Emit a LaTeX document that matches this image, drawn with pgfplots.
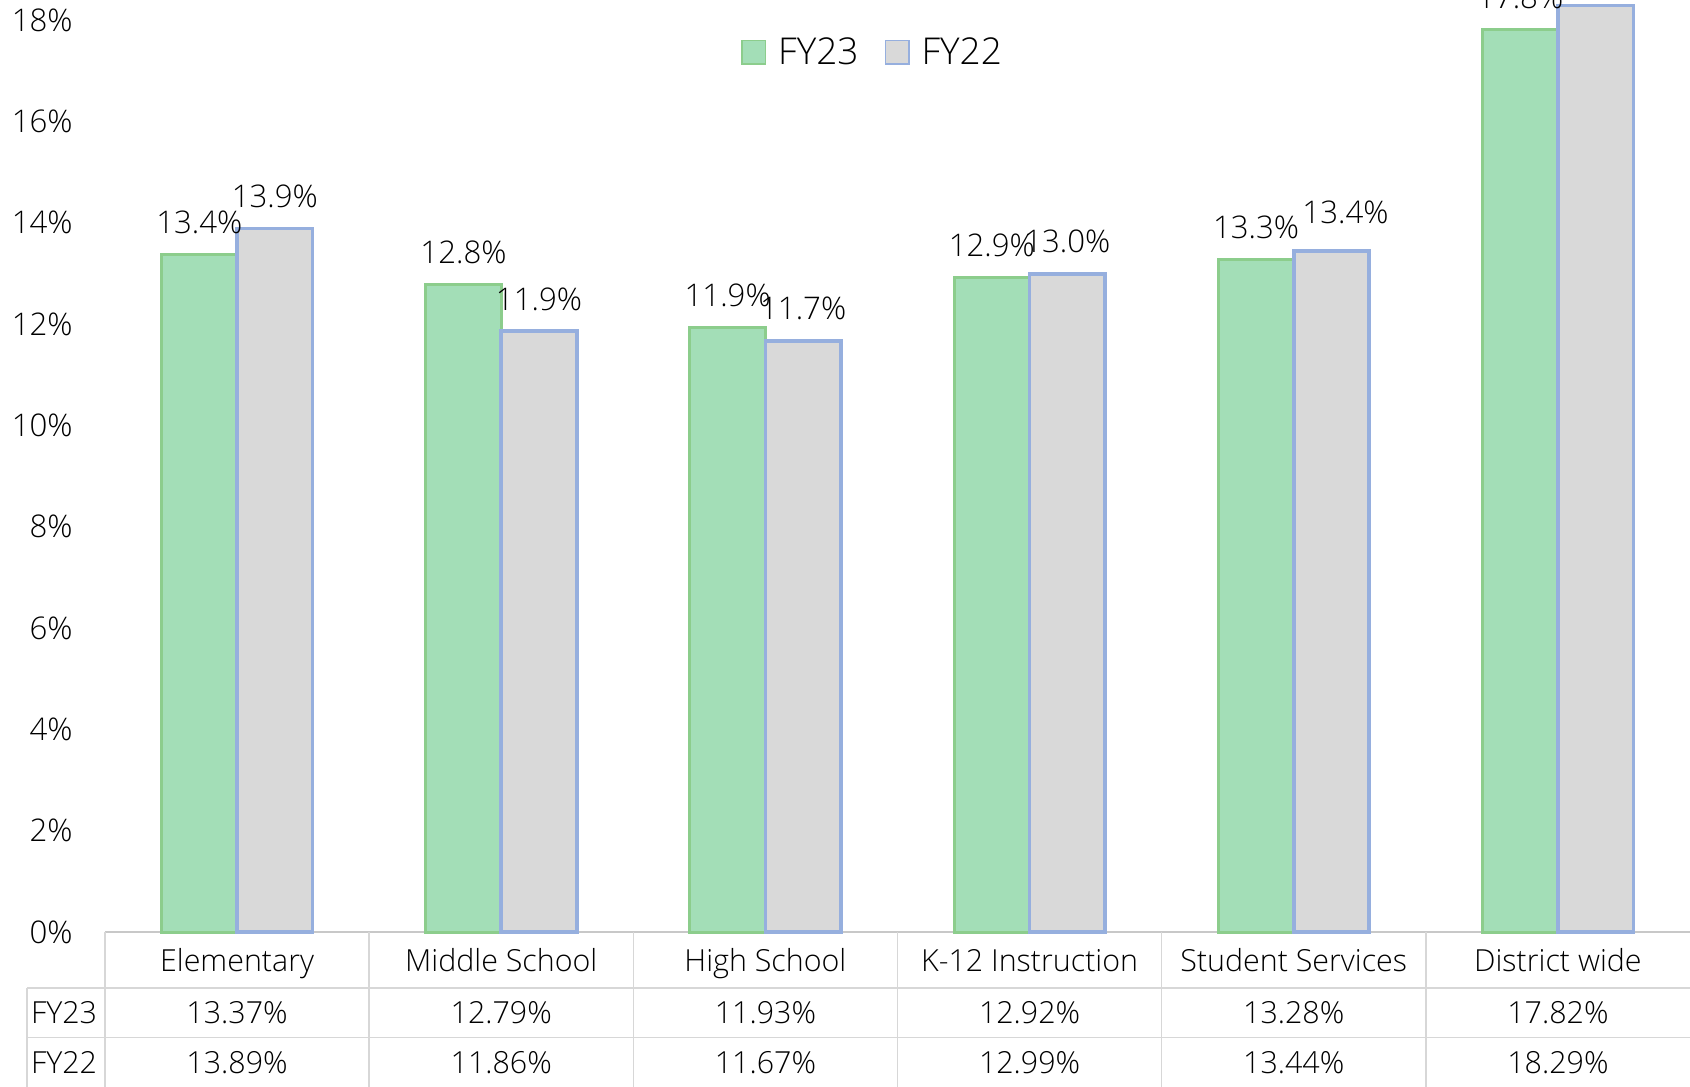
\documentclass[border=0pt]{standalone}
\usepackage{fontspec}
\IfFontExistsTF{Open Sans Light}{\setmainfont{Open Sans Light}}{\setmainfont{Open Sans}}
\usepackage{pgfplots}
\usepackage{pgfplotstable}
\pgfplotsset{compat=1.18}
\definecolor{gfill}{RGB}{163,222,183}
\definecolor{gedge}{RGB}{140,205,140}
\definecolor{bfill}{RGB}{217,217,217}
\definecolor{bedge}{RGB}{150,175,222}
\definecolor{tline}{RGB}{215,215,215}
\definecolor{aline}{RGB}{200,200,200}
\newcommand{\tickfont}{\fontsize{15.6}{18}\selectfont}
\newcommand{\labfont}{\fontsize{15.6}{19}\selectfont}
\newcommand{\tabfont}{\fontsize{15.2}{17}\selectfont}
\newcommand{\legfont}{\fontsize{18.5}{21}\selectfont}

% dx, dy: offsets (pt) of the FY22 data labels, as placed in the reference
\pgfplotstableread[col sep=comma]{
x,name,fy23,fy22,dx,dy
0,Elementary,13.37,13.89,0,0
1,Middle School,12.79,11.86,0,0
2,High School,11.93,11.67,0,0
3,K-12 Instruction,12.92,12.99,0,0
4,Student Services,13.28,13.44,7,3.2
5,District wide,17.82,18.29,0,0
}\datatable

\begin{document}
\begin{tikzpicture}
\begin{axis}[
  at={(0,0)}, anchor=south west,
  scale only axis, width=792.5pt, height=466pt,
  xmin=-0.5, xmax=5.5, ymin=0, ymax=18.40,
  axis line style={draw=none},
  xtick=\empty,
  ytick={0,2,...,18},
  yticklabel={\pgfmathprintnumber{\tick}\%},
  yticklabel style={font=\tickfont, anchor=east, inner sep=0pt, xshift=-16pt},
  major tick length=0pt,
  /pgf/number format/assume math mode=true,
  clip=false,
  legend style={draw=none, fill=none, at={(0.4849,0.944)}, anchor=center,
    legend columns=2, font=\legfont,
    /tikz/every even column/.append style={column sep=11pt}},
]
% table lines
\draw[aline, line width=0.8pt] (axis cs:-0.5,0) -- (axis cs:5.6,0);
\draw[tline, line width=0.7pt] (axis cs:-0.795,-1.106) -- (axis cs:5.6,-1.106);
\draw[tline, line width=0.7pt] (axis cs:-0.795,-2.083) -- (axis cs:5.6,-2.083);
\draw[tline, line width=0.7pt] (axis cs:-0.795,-1.106) -- (axis cs:-0.795,-3.3);
\draw[tline, line width=0.7pt] (axis cs:-0.5,0) -- (axis cs:-0.5,-3.3);
\draw[tline, line width=0.7pt] (axis cs:0.5,0) -- (axis cs:0.5,-3.3);
\draw[tline, line width=0.7pt] (axis cs:1.5,0) -- (axis cs:1.5,-3.3);
\draw[tline, line width=0.7pt] (axis cs:2.5,0) -- (axis cs:2.5,-3.3);
\draw[tline, line width=0.7pt] (axis cs:3.5,0) -- (axis cs:3.5,-3.3);
\draw[tline, line width=0.7pt] (axis cs:4.5,0) -- (axis cs:4.5,-3.3);
% bars
\addplot[ybar, bar width=0.2857, bar shift=-0.14285, fill=gfill, draw=gedge, line width=1.5pt, forget plot,
  nodes near coords={\pgfmathprintnumber[fixed,fixed zerofill,precision=1]{\pgfplotspointmeta}\%},
  every node near coord/.append style={font=\labfont, anchor=south, inner sep=0pt, yshift=9.5pt, xshift=-18.87pt, text=black}]
  table[x=x,y=fy23]{\datatable};
\addplot[ybar, bar width=0.2857, bar shift=0.14285, fill=bfill, draw=bedge, line width=1.8pt, forget plot,
  visualization depends on={\thisrow{dx} \as \labdx},
  visualization depends on={\thisrow{dy} \as \labdy},
  nodes near coords={\pgfmathprintnumber[fixed,fixed zerofill,precision=1]{\pgfplotspointmeta}\%},
  every node near coord/.append style={font=\labfont, anchor=south, inner sep=0pt, yshift={9.5pt+(\labdy)*1pt}, xshift={18.87pt+(\labdx)*1pt}, text=black}]
  table[x=x,y=fy22]{\datatable};
% table text
\addplot[draw=none, mark=none, forget plot, point meta=explicit symbolic, nodes near coords,
  every node near coord/.append style={font=\tabfont, anchor=base, inner sep=0pt, text=black}]
  table[x=x, y expr=-0.784, meta=name]{\datatable};
\addplot[draw=none, mark=none, forget plot, point meta=explicit,
  nodes near coords={\pgfmathprintnumber[fixed,fixed zerofill,precision=2]{\pgfplotspointmeta}\%},
  every node near coord/.append style={font=\tabfont, anchor=base, inner sep=0pt, text=black}]
  table[x=x, y expr=-1.803, meta=fy23]{\datatable};
\addplot[draw=none, mark=none, forget plot, point meta=explicit,
  nodes near coords={\pgfmathprintnumber[fixed,fixed zerofill,precision=2]{\pgfplotspointmeta}\%},
  every node near coord/.append style={font=\tabfont, anchor=base, inner sep=0pt, text=black}]
  table[x=x, y expr=-2.790, meta=fy22]{\datatable};
\node[font=\tabfont, anchor=base, inner sep=0pt] at (axis cs:-0.655,-1.803) {FY23};
\node[font=\tabfont, anchor=base, inner sep=0pt] at (axis cs:-0.655,-2.790) {FY22};
% legend
\addlegendimage{legend image code/.code={\draw[fill=gfill,draw=gedge,line width=0.8pt] (0pt,-5.9pt) rectangle (11.8pt,5.9pt); \path[draw=none,fill=none] (16pt,-1pt) rectangle (16.1pt,1pt);}}
\addlegendentry{FY23}
\addlegendimage{legend image code/.code={\draw[fill=bfill,draw=bedge,line width=0.8pt] (0pt,-5.9pt) rectangle (11.8pt,5.9pt); \path[draw=none,fill=none] (16pt,-1pt) rectangle (16.1pt,1pt);}}
\addlegendentry{FY22}
\end{axis}
\pgfresetboundingbox
\useasboundingbox (-52.5pt,-77pt) rectangle (792.5pt,466pt);
\end{tikzpicture}
\end{document}
